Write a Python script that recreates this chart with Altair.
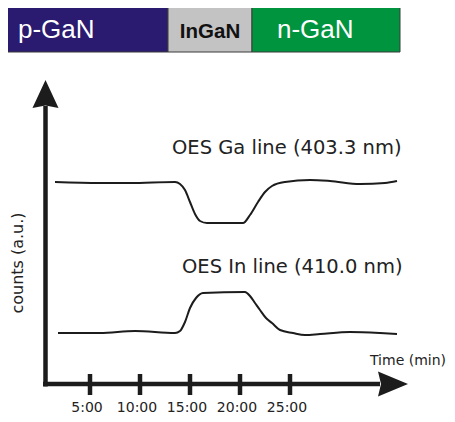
import altair as alt
import pandas as pd

# ---------------- data ----------------
# layer stack shown above the trace (time span in minutes)
layer_names = ["p-GaN", "InGaN", "n-GaN"]
layer_start = [-3.5, 12.8, 21.2]
layer_end = [12.8, 21.2, 36.0]
layer_fill = ["#2a1a70", "#c3c3c3", "#00943f"]

# OES Ga line (403.3 nm) trace: time (min), counts (a.u.)
ga_time = [1.5, 6.0, 9.0, 13.5, 14.0, 14.5, 15.0, 15.5, 16.0, 16.7, 20.3, 21.0,
           21.8, 22.5, 23.2, 24.5, 27.0, 29.0, 32.0, 34.5, 35.7]
ga_counts = [20.2, 20.1, 20.1, 20.2, 20.0, 19.4, 18.2, 17.0, 16.3, 16.1, 16.1, 16.9,
             18.2, 19.2, 19.8, 20.2, 20.4, 20.3, 20.0, 20.1, 20.3]

# OES In line (410.0 nm) trace
in_time = [1.8, 6.0, 9.5, 13.5, 14.0, 14.5, 15.0, 15.6, 16.3, 20.5, 21.0, 21.5,
           22.0, 22.6, 23.2, 24.0, 25.3, 26.5, 28.0, 31.0, 34.0, 35.7]
in_counts = [5.1, 5.1, 5.3, 5.1, 5.3, 6.2, 7.6, 8.6, 9.1, 9.2, 8.8, 8.1,
             7.4, 6.6, 6.1, 5.4, 5.1, 4.9, 5.0, 5.2, 5.1, 5.0]

tick_times = [5, 10, 15, 20, 25]
tick_labels = ["5:00", "10:00", "15:00", "20:00", "25:00"]

# ---------------- scales ----------------
XS = alt.Scale(domain=[-3.2, 40.7], nice=False, zero=False)
YS = alt.Scale(domain=[-3.0, 37.6], nice=False, zero=False)
INK = "#1c1c1c"
FONT = "DejaVu Sans"


def X(f):
    return alt.X(f, type="quantitative", scale=XS, axis=None)


def Y(f):
    return alt.Y(f, type="quantitative", scale=YS, axis=None)


# header bar
hdr = pd.DataFrame({"name": layer_names, "x0": layer_start, "x1": layer_end,
                    "y0": 33.2, "y1": 37.7})
header = alt.Chart(hdr).mark_rect(stroke="#3a3a3a", strokeWidth=1).encode(
    x=X("x0"), x2="x1", y=Y("y0"), y2="y1",
    color=alt.Color("name:N", scale=alt.Scale(domain=layer_names, range=layer_fill),
                    legend=None),
)

hdr_txt = pd.DataFrame({"name": layer_names,
                        "x": [-2.2, 17.0, 23.7],
                        "y": [35.4, 35.2, 35.4]})
header_white = alt.Chart(hdr_txt).transform_filter(
    alt.datum.name != "InGaN").mark_text(
    align="left", baseline="middle", font="Liberation Sans", fontSize=26,
    color="white").encode(x=X("x"), y=Y("y"), text="name:N")
header_ingan = alt.Chart(hdr_txt).transform_filter(
    alt.datum.name == "InGaN").mark_text(
    align="center", baseline="middle",
    font="Liberation Sans Narrow, Liberation Sans",
    fontSize=20.5, fontWeight="bold", color="#111111").encode(
    x=X("x"), y=Y("y"), text="name:N")

# traces
ga_df = pd.DataFrame({"t": ga_time, "c": ga_counts})
in_df = pd.DataFrame({"t": in_time, "c": in_counts})
ga_line = alt.Chart(ga_df).mark_line(color=INK, strokeWidth=2,
                                     interpolate="monotone").encode(
    x=X("t"), y=Y("c"))
in_line = alt.Chart(in_df).mark_line(color=INK, strokeWidth=2,
                                     interpolate="monotone").encode(
    x=X("t"), y=Y("c"))

# trace labels
lab_df = pd.DataFrame({"x": [13.2, 14.2], "y": [23.6, 11.7],
                       "text": ["OES Ga line (403.3 nm)", "OES In line (410.0 nm)"]})
trace_labels = alt.Chart(lab_df).mark_text(
    align="left", baseline="middle", font=FONT, fontSize=19.5, color="#222222").encode(
    x=X("x"), y=Y("y"), text="text:N")

# hand-drawn axes
yaxis = alt.Chart(pd.DataFrame({"x": [0.55], "y0": [-0.25], "y1": [27.8]})).mark_rule(
    color=INK, strokeWidth=4.5).encode(x=X("x"), y=Y("y0"), y2="y1")
xaxis = alt.Chart(pd.DataFrame({"x0": [0.3], "x1": [34.0], "y": [0.0]})).mark_rule(
    color=INK, strokeWidth=4.5).encode(x=X("x0"), x2="x1", y=Y("y"))

up_head = alt.Chart(pd.DataFrame({"x": [0.55], "y": [29.0]})).mark_point(
    shape="M0,-1L0.93,1L0,0.82L-0.93,1Z", filled=True, size=784, opacity=1,
    color=INK, strokeWidth=0).encode(x=X("x"), y=Y("y"))
right_head = alt.Chart(pd.DataFrame({"x": [35.3], "y": [0.0]})).mark_point(
    shape="M1,0L-1,-0.83L-0.8,0L-1,0.83Z", filled=True, size=900, opacity=1,
    color=INK, strokeWidth=0).encode(x=X("x"), y=Y("y"))

tk = pd.DataFrame({"t": tick_times, "label": tick_labels, "y0": 1.0, "y1": -1.1,
                   "ly": -2.4})
ticks = alt.Chart(tk).mark_rule(color=INK, strokeWidth=4.5).encode(
    x=X("t"), y=Y("y0"), y2="y1")
tick_text = alt.Chart(tk).mark_text(
    align="center", baseline="middle", font=FONT, fontSize=14, dx=-3,
    color="#222222").encode(x=X("t"), y=Y("ly"), text="label:N")

time_title = alt.Chart(pd.DataFrame({"x": [33.0], "y": [2.3], "text": ["Time (min)"]})).mark_text(
    align="left", baseline="middle", font=FONT, fontSize=14, color="#222222").encode(
    x=X("x"), y=Y("y"), text="text:N")
counts_title = alt.Chart(pd.DataFrame({"x": [-2.2], "y": [12.1], "text": ["counts (a.u.)"]})).mark_text(
    align="center", baseline="middle", font=FONT, fontSize=16, angle=270,
    color="#222222").encode(x=X("x"), y=Y("y"), text="text:N")

chart = alt.layer(
    header, header_white, header_ingan,
    ga_line, in_line, trace_labels,
    yaxis, xaxis, up_head, right_head, ticks, tick_text,
    time_title, counts_title,
).properties(
    width=439, height=406, padding=0, autosize="none", background="white"
).configure_view(stroke=None)

chart.save("out.html", embed_options={"renderer": "svg", "actions": False})
